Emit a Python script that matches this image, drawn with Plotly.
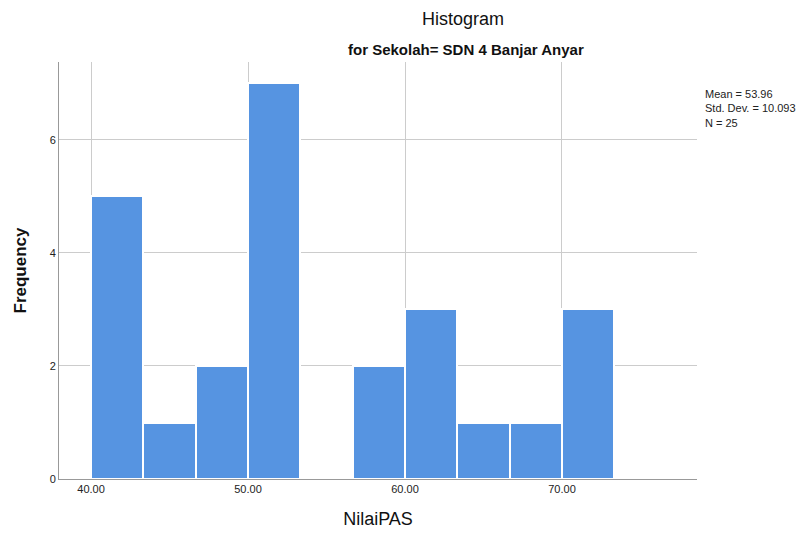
import plotly.graph_objects as go

bin_starts = [40.0, 43.333, 46.667, 50.0, 53.333, 56.667, 60.0, 63.333, 66.667, 70.0]
bin_width = 3.3333
counts = [5, 1, 2, 7, 0, 2, 3, 1, 1, 3]
x_ticks = [40, 50, 60, 70]
x_tick_labels = ["40.00", "50.00", "60.00", "70.00"]
y_ticks = [0, 2, 4, 6]
stats_text = "Mean = 53.96<br>Std. Dev. = 10.093<br>N = 25"

centers = [s + bin_width / 2 for s in bin_starts]

fig = go.Figure()
fig.add_trace(go.Bar(
    x=centers, y=counts, width=[bin_width] * len(counts),
    marker=dict(color="#5694E1", line=dict(color="white", width=2)),
    hoverinfo="skip",
))

# page body has an 8px margin; plot area on screen: x 59..697, y 62..479
L, T, R, B = 51, 54, 118, 66
PW = 807 - L - R
PH = 537 - T - B


def px(X):
    return (X - 59) / PW


def py(Y):
    return (479 - Y) / PH


font_main = "Liberation Sans, Arial, sans-serif"
fig.update_layout(
    width=807, height=537,
    margin=dict(l=L, r=R, t=T, b=B),
    paper_bgcolor="white", plot_bgcolor="white",
    showlegend=False,
    bargap=0,
    font=dict(family=font_main, color="#222222", size=11),
    xaxis=dict(
        range=[37.96, 78.6], tickvals=x_ticks, ticktext=x_tick_labels,
        showgrid=True, gridcolor="#cccccc", gridwidth=1,
        showline=True, linecolor="#999999", linewidth=1,
        zeroline=False, ticks="", tickfont=dict(size=11, color="#222222"),
        title=dict(text="NilaiPAS", font=dict(size=18, color="#111111"), standoff=18),
    ),
    yaxis=dict(
        range=[0, 7.38], tickvals=y_ticks,
        showgrid=True, gridcolor="#cccccc", gridwidth=1,
        showline=True, linecolor="#999999", linewidth=1,
        zeroline=False, ticks="", tickfont=dict(size=11, color="#222222"),
        title=dict(text="<b>Frequency</b>", font=dict(size=17, color="#111111"), standoff=18),
    ),
    annotations=[
        dict(text="Histogram", x=px(463), y=py(19), xref="paper", yref="paper",
             xanchor="center", yanchor="middle", showarrow=False,
             font=dict(size=18, color="#111111")),
        dict(text="<b>for Sekolah= SDN 4 Banjar Anyar</b>", x=px(466), y=py(49.5),
             xref="paper", yref="paper", xanchor="center", yanchor="middle",
             showarrow=False, font=dict(size=15, color="#111111")),
        dict(text=stats_text, x=px(703), y=py(86), xref="paper", yref="paper",
             xanchor="left", yanchor="top", align="left", showarrow=False,
             font=dict(size=11, color="#222222")),
    ],
)

fig.write_html("out.html")
